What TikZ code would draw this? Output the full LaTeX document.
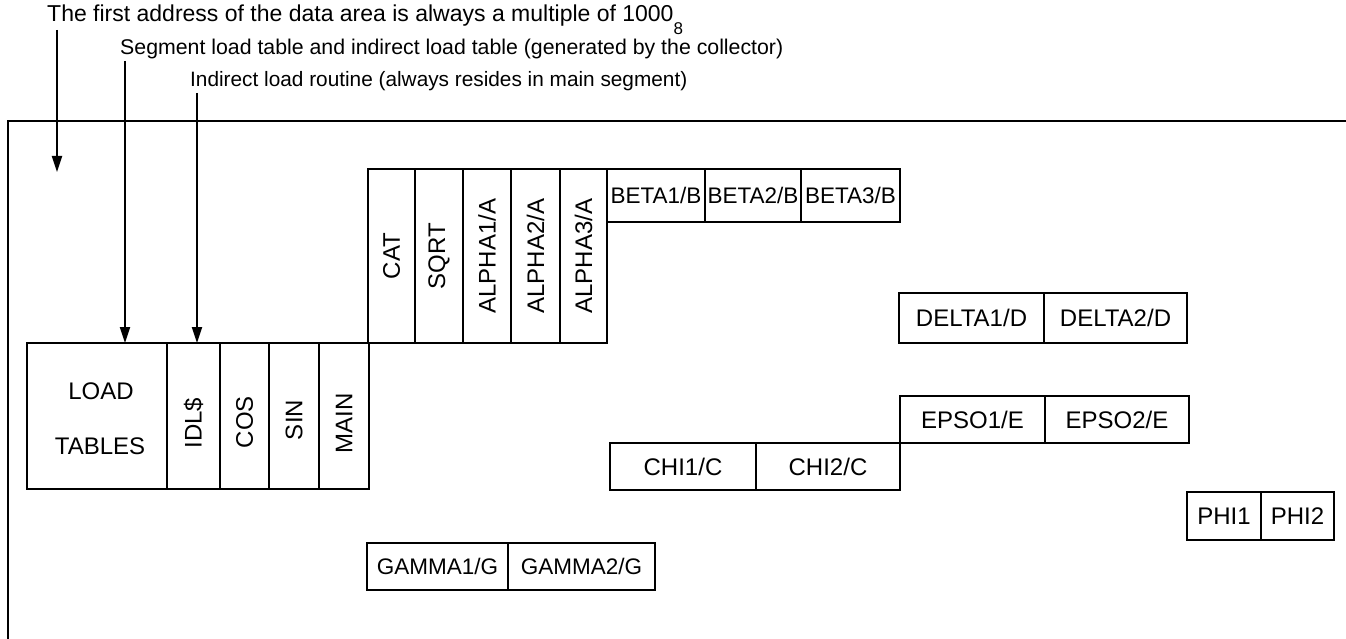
\documentclass[tikz,border=0pt]{standalone}
\usepackage{fontspec}
\setmainfont{Liberation Sans}
\usetikzlibrary{arrows.meta}
\tikzset{
  seg/.style={draw, line width=1.6pt, rectangle, inner sep=0pt, outer sep=0pt, anchor=north west},
  lbl/.style={font=\fontsize{24}{26}\selectfont, inner sep=0pt},
  vlbl/.style={lbl, rotate=90},
  hdr/.style={inner sep=0pt, anchor=base west},
  frame/.style={line width=1.8pt},
  ptr/.style={line width=2pt, -{Triangle[length=16pt,width=10pt]}}
}
\begin{document}
\begin{tikzpicture}[x=1pt,y=-1pt]
\useasboundingbox (0,0) rectangle (1346,639);
% frame
\coordinate (fb) at (8,639);
\coordinate (fc) at (8,121);
\coordinate (fr) at (1346,121);
\draw[frame] (fb) -- (fc) -- (fr);
% header texts
\node[hdr, font=\fontsize{23}{26}\selectfont] (t1) at (47,22) {The first address of the data area is always a multiple of 1000\raisebox{-1.0ex}{\fontsize{17}{17}\selectfont 8}};
\node[hdr, font=\fontsize{21.3}{26}\selectfont] (t2) at (120,55) {Segment load table and indirect load table (generated by the collector)};
\node[hdr, font=\fontsize{20.8}{26}\selectfont] (t3) at (190,87) {Indirect load routine (always resides in main segment)};
% boxes
\node[seg, minimum width=140pt, minimum height=146pt] (load) at (27,343) {};
\node[seg, minimum width=53pt, minimum height=146pt] (idl) at (167,343) {};
\node[seg, minimum width=49pt, minimum height=146pt] (cos) at (220,343) {};
\node[seg, minimum width=50pt, minimum height=146pt] (sin) at (269,343) {};
\node[seg, minimum width=50pt, minimum height=146pt] (main) at (319,343) {};
\node[seg, minimum width=47pt, minimum height=174pt] (cat) at (368,169) {};
\node[seg, minimum width=48pt, minimum height=174pt] (sqrt) at (415,169) {};
\node[seg, minimum width=48pt, minimum height=174pt] (al1) at (463,169) {};
\node[seg, minimum width=49pt, minimum height=174pt] (al2) at (511,169) {};
\node[seg, minimum width=47pt, minimum height=174pt] (al3) at (560,169) {};
\node[seg, minimum width=98pt, minimum height=53pt] (be1) at (607,169) {};
\node[seg, minimum width=96pt, minimum height=53pt] (be2) at (705,169) {};
\node[seg, minimum width=99pt, minimum height=53pt] (be3) at (801,169) {};
\node[seg, minimum width=145pt, minimum height=50pt] (de1) at (899,293) {};
\node[seg, minimum width=143pt, minimum height=50pt] (de2) at (1044,293) {};
\node[seg, minimum width=145pt, minimum height=47pt] (ep1) at (900,396) {};
\node[seg, minimum width=144pt, minimum height=47pt] (ep2) at (1045,396) {};
\node[seg, minimum width=146pt, minimum height=47pt] (ch1) at (610,443) {};
\node[seg, minimum width=144pt, minimum height=47pt] (ch2) at (756,443) {};
\node[seg, minimum width=74pt, minimum height=48pt] (ph1) at (1187,492) {};
\node[seg, minimum width=73pt, minimum height=48pt] (ph2) at (1261,492) {};
\node[seg, minimum width=141pt, minimum height=47pt] (ga1) at (367,543) {};
\node[seg, minimum width=147pt, minimum height=47pt] (ga2) at (508,543) {};
% labels
\node[lbl] (lload) at (101,391) {LOAD};
\node[lbl] (ltab) at (100,446) {TABLES};
\node[vlbl] (lidl) at ([yshift=-7pt]idl.center) {IDL\$};
\node[vlbl] (lcos) at ([yshift=-6pt]cos.center) {COS};
\node[vlbl] (lsin) at ([yshift=-4pt]sin.center) {SIN};
\node[vlbl] (lmain) at ([yshift=-7pt]main.center) {MAIN};
\node[vlbl] (lcat) at (cat.center) {CAT};
\node[vlbl] (lsqrt) at (sqrt.center) {SQRT};
\node[vlbl] (lal1) at (al1.center) {ALPHA1/A};
\node[vlbl] (lal2) at (al2.center) {ALPHA2/A};
\node[vlbl] (lal3) at (al3.center) {ALPHA3/A};
\node[lbl, font=\fontsize{22.5}{26}\selectfont] (lbe1) at (be1.center) {BETA1/B};
\node[lbl, font=\fontsize{22.5}{26}\selectfont] (lbe2) at (be2.center) {BETA2/B};
\node[lbl, font=\fontsize{22.5}{26}\selectfont] (lbe3) at (be3.center) {BETA3/B};
\node[lbl] (lde1) at (de1.center) {DELTA1/D};
\node[lbl] (lde2) at (de2.center) {DELTA2/D};
\node[lbl] (lep1) at (ep1.center) {EPSO1/E};
\node[lbl] (lep2) at (ep2.center) {EPSO2/E};
\node[lbl] (lch1) at (ch1.center) {CHI1/C};
\node[lbl] (lch2) at (ch2.center) {CHI2/C};
\node[lbl] (lph1) at (ph1.center) {PHI1};
\node[lbl] (lph2) at (ph2.center) {PHI2};
\node[lbl, font=\fontsize{22.5}{26}\selectfont] (lga1) at (ga1.center) {GAMMA1/G};
\node[lbl, font=\fontsize{22.5}{26}\selectfont] (lga2) at (ga2.center) {GAMMA2/G};
% arrows
\coordinate (a1s) at (57,30);
\coordinate (a1e) at (57,172);
\coordinate (a2s) at (125,61);
\coordinate (a2e) at (125,343);
\coordinate (a3s) at (197,93);
\coordinate (a3e) at (197,343);
\draw[ptr] (a1s) -- (a1e);
\draw[ptr] (a2s) -- (a2e);
\draw[ptr] (a3s) -- (a3e);
\end{tikzpicture}
\end{document}
